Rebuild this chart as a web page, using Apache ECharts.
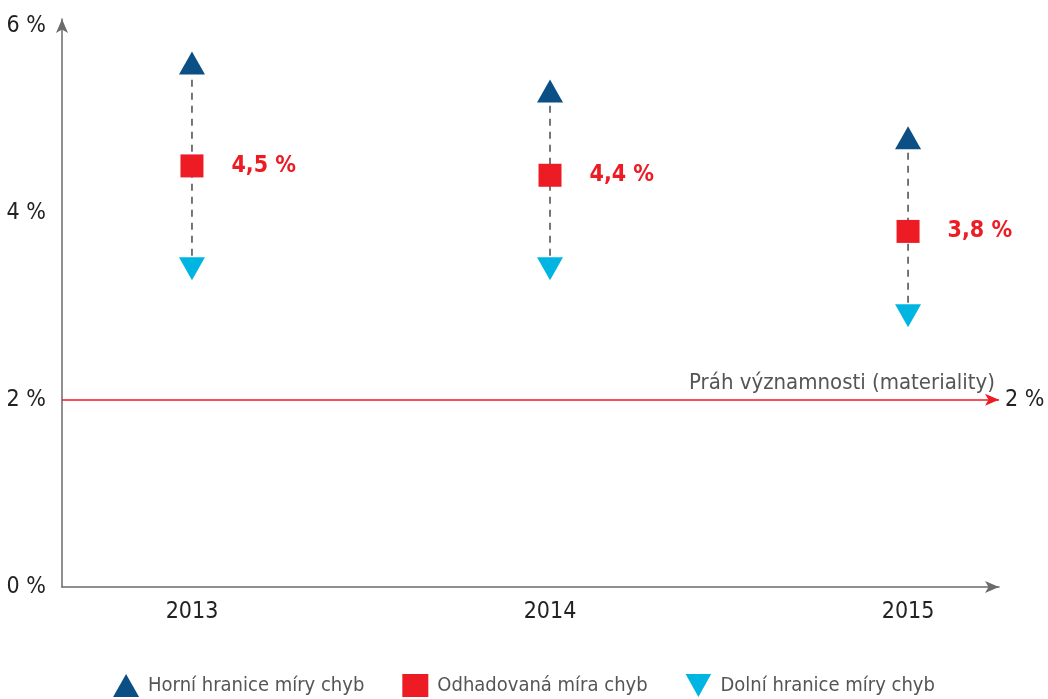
<!DOCTYPE html>
<html>
<head>
<meta charset="utf-8">
<script src="https://cdn.jsdelivr.net/npm/echarts@6/dist/echarts.min.js"></script>
<style>
  html, body { margin: 0; padding: 0; background: #fff; }
  #chart { width: 1048px; height: 699px; }
</style>
</head>
<body>
<div id="chart"></div>
<script>
// data
var years = [2013, 2014, 2015];
var upper = [5.6, 5.3, 4.8];      // Horní hranice míry chyb
var estimate = [4.5, 4.4, 3.8];   // Odhadovaná míra chyb
var lower = [3.4, 3.4, 2.9];      // Dolní hranice míry chyb
var threshold = 2;                // Práh významnosti
var yTicks = [0, 2, 4, 6];

var font = '"Liberation Sans Narrow", "DejaVu Sans Condensed", sans-serif';
var axisGrey = '#6b6b6b';
var downTri = 'path://M0,0L10,0L5,9Z';

function pct(v) {
  return String(v).replace('.', ',') + ' %';
}

var chart = echarts.init(document.getElementById('chart'));

var option = {
  animation: false,
  textStyle: { fontFamily: font },
  grid: { left: 62, right: 49, top: 19, bottom: 112, containLabel: false },
  legend: {
    top: 669,
    left: 'center',
    itemWidth: 26,
    itemHeight: 23,
    itemGap: 38,
    textStyle: { fontFamily: font, fontSize: 20, color: '#555', padding: [0, 0, 0, 4] },
    data: [
      { name: 'Horní hranice míry chyb', icon: 'triangle' },
      { name: 'Odhadovaná míra chyb', icon: 'rect' },
      { name: 'Dolní hranice míry chyb', icon: downTri }
    ]
  },
  xAxis: {
    type: 'value',
    min: 2012.637,
    max: 2015.254,
    splitLine: { show: false },
    axisTick: { show: false },
    axisLine: {
      onZero: false,
      symbol: ['none', 'arrow'],
      symbolSize: [9, 14],
      lineStyle: { color: axisGrey, width: 1.5 }
    },
    axisLabel: {
      customValues: years,
      margin: 14,
      fontSize: 23,
      color: '#222',
      fontFamily: font,
      formatter: function (v) { return String(v); }
    }
  },
  yAxis: {
    type: 'value',
    min: 0,
    max: 6.07,
    splitLine: { show: false },
    axisTick: { show: false },
    axisLine: {
      show: true,
      symbol: ['none', 'arrow'],
      symbolSize: [9, 14],
      lineStyle: { color: axisGrey, width: 1.5 }
    },
    axisLabel: {
      customValues: yTicks,
      margin: 16,
      fontSize: 23,
      color: '#222',
      fontFamily: font,
      formatter: function (v) { return v + ' %'; }
    }
  },
  series: [
    {
      type: 'custom',
      name: 'range',
      silent: true,
      z: 1,
      data: years.map(function (y, i) { return [y, lower[i], upper[i]]; }),
      renderItem: function (params, api) {
        var a = api.coord([api.value(0), api.value(1)]);
        var b = api.coord([api.value(0), api.value(2)]);
        return {
          type: 'line',
          shape: { x1: a[0], y1: a[1], x2: b[0], y2: b[1] },
          style: { stroke: '#4a4a4a', lineWidth: 1.5, lineDash: [7, 6] }
        };
      }
    },
    {
      type: 'scatter',
      name: 'Horní hranice míry chyb',
      symbol: 'triangle',
      symbolSize: [26, 23],
      itemStyle: { color: '#0b4f84', opacity: 1 },
      z: 3,
      data: years.map(function (y, i) { return [y, upper[i]]; })
    },
    {
      type: 'scatter',
      name: 'Odhadovaná míra chyb',
      symbol: 'rect',
      symbolSize: 23,
      itemStyle: { color: '#ed1c24', opacity: 1 },
      z: 3,
      label: {
        show: true,
        position: 'right',
        distance: 28,
        fontFamily: font,
        fontSize: 23,
        fontWeight: 'bold',
        color: '#ed1c24',
        formatter: function (p) { return pct(p.value[1]); }
      },
      data: years.map(function (y, i) { return [y, estimate[i]]; }),
      markLine: {
        silent: true,
        symbol: ['none', 'arrow'],
        symbolSize: [9, 14],
        lineStyle: { color: '#ed1c24', width: 1.5, type: 'solid' },
        data: [
          {
            yAxis: threshold,
            label: {
              show: true,
              position: 'end',
              distance: 6,
              fontFamily: font,
              fontSize: 23,
              color: '#222',
              formatter: pct(threshold)
            }
          },
          {
            yAxis: threshold,
            symbol: 'none',
            lineStyle: { color: 'rgba(0,0,0,0)', width: 0 },
            label: {
              show: true,
              position: 'insideEndTop',
              distance: [4, 6],
              fontFamily: font,
              fontSize: 22,
              color: '#555',
              formatter: 'Práh významnosti (materiality)'
            }
          }
        ]
      }
    },
    {
      type: 'scatter',
      name: 'Dolní hranice míry chyb',
      symbol: downTri,
      symbolSize: [26, 23],
      itemStyle: { color: '#00b5e2', opacity: 1 },
      z: 3,
      data: years.map(function (y, i) { return [y, lower[i]]; })
    }
  ]
};

chart.setOption(option);
</script>
</body>
</html>
